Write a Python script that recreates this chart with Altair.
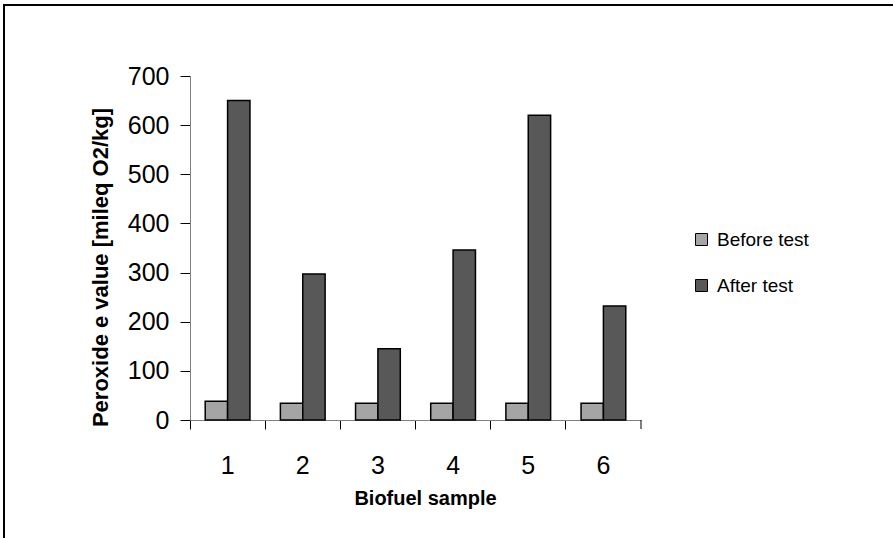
import altair as alt
import pandas as pd

samples = ["1", "2", "3", "4", "5", "6"]
series = ["Before test", "After test"]
before_vals = [38, 34, 34, 34, 34, 34]
after_vals = [650, 297, 145, 346, 620, 232]
colors = ["#a5a5a5", "#585858"]
y_ticks = [0, 100, 200, 300, 400, 500, 600, 700]

rows = []
for s, b, a in zip(samples, before_vals, after_vals):
    rows.append({"sample": s, "series": series[0], "value": b})
    rows.append({"sample": s, "series": series[1], "value": a})
df = pd.DataFrame(rows)

FONT = "Liberation Sans"
W, H = 451, 344

bars = alt.Chart(df).mark_bar(stroke="black", strokeWidth=1.5).encode(
    x=alt.X(
        "sample:N",
        sort=samples,
        scale=alt.Scale(paddingInner=0, paddingOuter=0),
        axis=alt.Axis(
            bandPosition=0,
            labelAngle=0,
            labelFontSize=25,
            labelFont=FONT,
            labelColor="black",
            labelPadding=24,
            tickSize=9,
            tickColor="black",
            domainColor="#808080",
            grid=False,
            title="Biofuel sample",
            titleFont=FONT,
            titleFontSize=20,
            titleFontWeight="bold",
            titleColor="black",
            titleX=235,
            titleY=84,
            titleBaseline="alphabetic",
        ),
    ),
    xOffset=alt.XOffset(
        "series:N",
        sort=series,
        scale=alt.Scale(paddingInner=0, paddingOuter=0.68),
    ),
    y=alt.Y(
        "value:Q",
        scale=alt.Scale(domain=[0, 700], nice=False),
        axis=alt.Axis(
            values=y_ticks,
            labelFontSize=25,
            labelFont=FONT,
            labelColor="black",
            labelPadding=11,
            tickSize=10,
            tickColor="black",
            domainColor="#808080",
            grid=False,
            title="Peroxide e value [mileq O2/kg]",
            titleFont=FONT,
            titleFontSize=22,
            titleFontWeight="bold",
            titleColor="black",
            titleAngle=270,
            titleX=-90,
            titleY=191,
            titleBaseline="middle",
        ),
    ),
    color=alt.Color(
        "series:N",
        sort=series,
        scale=alt.Scale(domain=series, range=colors),
        legend=alt.Legend(
            title=None,
            orient="none",
            legendX=502,
            legendY=154,
            labelFont=FONT,
            labelFontSize=19,
            labelColor="black",
            labelOffset=6,
            symbolType="square",
            symbolSize=144,
            symbolStrokeColor="black",
            symbolStrokeWidth=1,
            rowPadding=26,
        ),
    ),
)

one = alt.Data(values=[{"k": 0}])

end_tick = alt.Chart(one).mark_rule(color="black", strokeWidth=1).encode(
    x=alt.value(W), y=alt.value(H), y2=alt.value(H + 9)
)

frame_top = alt.Chart(one).mark_rule(color="black", strokeWidth=2).encode(
    x=alt.value(-187), x2=alt.value(705), y=alt.value(-71)
)
frame_left = alt.Chart(one).mark_rule(color="black", strokeWidth=2).encode(
    x=alt.value(-186), y=alt.value(-72), y2=alt.value(465)
)

chart = (
    alt.layer(bars, end_tick, frame_top, frame_left)
    .properties(
        width=W,
        height=H,
        autosize=alt.AutoSizeParams(type="none"),
        padding={"left": 190, "top": 76, "right": 252, "bottom": 118},
        background="white",
    )
    .configure_view(stroke=None)
)

chart.save("out.html", embed_options={"renderer": "svg", "actions": False})
